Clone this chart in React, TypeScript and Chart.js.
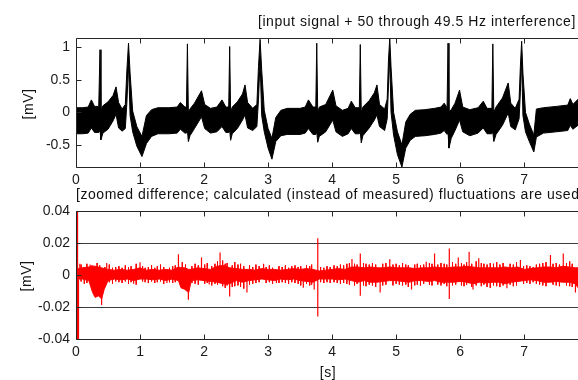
import React, { useEffect, useRef } from 'react';
import { Chart, registerables } from 'chart.js';

Chart.register(...registerables);

const FONT = '"Liberation Sans", Arial, Helvetica, sans-serif';

// ---------- top panel: signal + interference (envelope of the band) ----------
const topTimes = [
  0.0, 0.1, 0.19, 0.24, 0.29, 0.355, 0.375, 0.39, 0.42, 0.5, 0.58, 0.625, 0.665, 0.72, 0.77, 0.795, 0.82, 0.845, 0.885, 0.95,
  1.03, 1.1, 1.18, 1.28, 1.45, 1.58, 1.63, 1.7, 1.725, 1.74, 1.755, 1.78, 1.85, 1.96, 2.01, 2.1, 2.2, 2.28, 2.34, 2.385,
  2.4, 2.415, 2.44, 2.52, 2.6, 2.64, 2.68, 2.76, 2.825, 2.85, 2.875, 2.9, 2.94, 3.0, 3.06, 3.12, 3.2, 3.3, 3.5, 3.58,
  3.63, 3.7, 3.745, 3.76, 3.775, 3.8, 3.9, 4.01, 4.06, 4.16, 4.25, 4.3, 4.36, 4.425, 4.44, 4.455, 4.48, 4.58, 4.66, 4.7,
  4.74, 4.82, 4.86, 4.88, 4.9, 4.92, 4.96, 5.02, 5.09, 5.15, 5.22, 5.3, 5.45, 5.6, 5.7, 5.75, 5.795, 5.81, 5.825, 5.86,
  5.92, 5.99, 6.04, 6.15, 6.28, 6.36, 6.42, 6.495, 6.51, 6.525, 6.56, 6.66, 6.75, 6.79, 6.86, 6.92, 6.94, 6.96, 6.98, 7.02,
  7.08, 7.15, 7.19, 7.3, 7.5, 7.68, 7.72, 7.76, 7.84,
];
const topUpper = [
  0.07, 0.07, 0.08, 0.19, 0.09, 0.09, 0.96, 0.03, 0.1, 0.16, 0.26, 0.39, 0.15, 0.05, 0.12, 0.65, 1.06, 0.6, 0.02, -0.22,
  -0.37, -0.05, 0.04, 0.07, 0.07, 0.08, 0.15, 0.08, 0.08, 1.05, 0.0, 0.05, 0.14, 0.33, 0.12, 0.06, 0.08, 0.19, 0.08, 0.08,
  1.01, 0.0, 0.08, 0.16, 0.28, 0.42, 0.15, 0.06, 0.12, 0.7, 1.12, 0.65, 0.03, -0.25, -0.4, -0.08, 0.03, 0.06, 0.06, 0.08,
  0.19, 0.08, 0.08, 1.06, 0.0, 0.08, 0.12, 0.34, 0.1, 0.03, 0.06, 0.17, 0.07, 0.07, 1.04, 0.0, 0.08, 0.18, 0.3, 0.42,
  0.12, 0.05, 0.2, 0.8, 1.14, 0.7, 0.0, -0.3, -0.5, -0.15, -0.03, 0.03, 0.04, 0.06, 0.08, 0.14, 0.07, 1.06, 0.0, 0.04,
  0.14, 0.34, 0.08, 0.04, 0.07, 0.17, 0.06, 0.06, 1.05, 0.0, 0.08, 0.22, 0.45, 0.14, 0.06, 0.2, 0.7, 1.09, 0.6, 0.0,
  -0.18, -0.35, 0.05, 0.07, 0.09, 0.11, 0.21, 0.12, 0.2,
];
const topLower = [
  -0.33, -0.33, -0.32, -0.24, -0.31, -0.31, -0.28, -0.42, -0.32, -0.26, -0.13, -0.03, -0.24, -0.29, -0.25, 0.15, 0.75, -0.05, -0.3, -0.52,
  -0.68, -0.48, -0.37, -0.33, -0.33, -0.32, -0.26, -0.32, -0.32, -0.28, -0.45, -0.36, -0.25, -0.07, -0.25, -0.32, -0.3, -0.22, -0.31, -0.31,
  -0.28, -0.43, -0.33, -0.25, -0.12, -0.04, -0.24, -0.28, -0.22, 0.2, 0.8, -0.05, -0.3, -0.55, -0.72, -0.45, -0.36, -0.34, -0.34, -0.32,
  -0.25, -0.34, -0.34, -0.3, -0.46, -0.37, -0.3, -0.12, -0.3, -0.37, -0.33, -0.25, -0.33, -0.33, -0.3, -0.47, -0.36, -0.24, -0.12, -0.04,
  -0.22, -0.28, -0.1, 0.4, 0.85, 0.0, -0.35, -0.65, -0.84, -0.55, -0.43, -0.37, -0.36, -0.34, -0.32, -0.28, -0.34, -0.3, -0.55, -0.4,
  -0.28, -0.12, -0.3, -0.36, -0.32, -0.24, -0.33, -0.33, -0.3, -0.45, -0.34, -0.2, -0.01, -0.22, -0.27, -0.1, 0.3, 0.8, -0.05, -0.3,
  -0.45, -0.61, -0.38, -0.32, -0.3, -0.28, -0.2, -0.26, -0.2,
];

// ---------- bottom panel: zoomed difference (dense core envelope) ----------
const diffTimes = [
  0, 0.1, 0.2, 0.26, 0.3, 0.35, 0.4, 0.44, 0.5, 0.6, 0.7, 0.8, 0.9, 1.0, 1.1, 1.2, 1.3, 1.4, 1.5, 1.6,
  1.64, 1.7, 1.76, 1.8, 1.9, 2.0, 2.1, 2.2, 2.3, 2.4, 2.5, 2.6, 2.7, 2.8, 2.9, 3.0, 3.1, 3.2, 3.3, 3.4,
  3.5, 3.6, 3.7, 3.8, 3.9, 4.0, 4.1, 4.2, 4.3, 4.4, 4.5, 4.6, 4.7, 4.8, 4.9, 5.0, 5.1, 5.2, 5.3, 5.4,
  5.5, 5.6, 5.7, 5.8, 5.9, 6.0, 6.1, 6.2, 6.3, 6.4, 6.5, 6.6, 6.7, 6.8, 6.9, 7.0, 7.1, 7.2, 7.3, 7.4,
  7.5, 7.6, 7.7, 7.8, 7.84,
];
const diffUpper = [
  0.0035, 0.0045, 0.005, 0.0055, 0.0055, 0.005, 0.0045, 0.004, 0.0035, 0.003, 0.0035, 0.003, 0.0035, 0.0045, 0.003, 0.0035, 0.003, 0.0035, 0.003, 0.005,
  0.0045, 0.0045, 0.0035, 0.0035, 0.0045, 0.004, 0.0035, 0.0055, 0.006, 0.0045, 0.004, 0.0035, 0.0035, 0.003, 0.004, 0.0035, 0.0035, 0.003, 0.0035, 0.004,
  0.0035, 0.004, 0.0035, 0.0025, 0.003, 0.0035, 0.004, 0.0035, 0.005, 0.005, 0.0045, 0.005, 0.0045, 0.0045, 0.005, 0.0045, 0.0045, 0.0045, 0.004, 0.0045,
  0.0045, 0.005, 0.0045, 0.0045, 0.005, 0.005, 0.0055, 0.005, 0.0045, 0.0045, 0.0045, 0.0045, 0.005, 0.0045, 0.005, 0.0035, 0.004, 0.0045, 0.005, 0.005,
  0.0045, 0.0055, 0.005, 0.0045, 0.0045,
];
const diffLower = [
  -0.0025, -0.0025, -0.0035, -0.011, -0.014, -0.013, -0.015, -0.009, -0.0035, -0.0025, -0.003, -0.0025, -0.0035, -0.0025, -0.0025, -0.003, -0.0025, -0.0035, -0.0025, -0.0035,
  -0.008, -0.009, -0.011, -0.0035, -0.003, -0.0035, -0.004, -0.0045, -0.0055, -0.0055, -0.0035, -0.0045, -0.0035, -0.003, -0.0025, -0.003, -0.0035, -0.0025, -0.003, -0.0025,
  -0.0035, -0.004, -0.0045, -0.0025, -0.0025, -0.0025, -0.003, -0.0025, -0.0035, -0.0045, -0.0035, -0.0045, -0.0045, -0.004, -0.0035, -0.0035, -0.004, -0.0045, -0.0035, -0.0035,
  -0.004, -0.0035, -0.0045, -0.0045, -0.0045, -0.004, -0.0045, -0.0055, -0.0045, -0.005, -0.0045, -0.0045, -0.0055, -0.0045, -0.004, -0.0035, -0.003, -0.0035, -0.0045, -0.0045,
  -0.004, -0.0045, -0.0045, -0.0055, -0.008,
];

// large isolated excursions
const spikeTimes = [
  0.024, 0.039, 0.06, 0.22, 0.4, 0.48, 0.9, 1.0, 1.42, 1.6, 1.755, 1.96, 2.08, 2.25, 2.4, 2.67, 2.93, 3.13, 3.55, 3.72,
  3.776, 4.31, 4.44, 4.75, 4.9, 5.24, 5.47, 5.6, 5.83, 5.97, 6.14, 6.2, 6.29, 6.73, 6.94, 7.41, 7.61, 7.8,
];
const spikeHigh = [
  0.04, 0.0, 0.007, 0.0065, 0.002, 0.0075, 0.003, 0.008, 0.002, 0.013, 0.0, 0.011, 0.002, 0.014, 0.003, 0.002, 0.007, 0.002, 0.002, 0.003,
  0.023, 0.01, 0.0135, 0.002, 0.0098, 0.002, 0.0083, 0.0135, 0.0166, 0.011, 0.0145, 0.002, 0.0104, 0.002, 0.0093, 0.0125, 0.0135, 0.002,
];
const spikeLow = [
  -0.04, -0.04, -0.002, -0.004, -0.0187, -0.003, -0.0055, -0.002, -0.005, -0.002, -0.0155, -0.002, -0.006, -0.002, -0.0135, -0.011, -0.002, -0.005, -0.008, -0.009,
  -0.026, -0.002, -0.013, -0.011, -0.002, -0.009, -0.002, -0.002, -0.015, -0.002, -0.002, -0.009, -0.002, -0.0083, -0.002, -0.002, -0.002, -0.011,
];

// small fluctuations (hair) around the core band
const hairTimes = [
  0.08, 0.13, 0.17, 0.25, 0.33, 0.37, 0.45, 0.52, 0.57, 0.62, 0.67, 0.72, 0.77, 0.82, 0.86, 0.94, 1.04, 1.08, 1.13, 1.18,
  1.23, 1.27, 1.32, 1.37, 1.46, 1.51, 1.55, 1.66, 1.71, 1.81, 1.86, 1.91, 2.01, 2.05, 2.12, 2.17, 2.21, 2.29, 2.33, 2.36,
  2.44, 2.48, 2.53, 2.57, 2.62, 2.71, 2.76, 2.81, 2.86, 2.97, 3.02, 3.07, 3.17, 3.22, 3.27, 3.32, 3.37, 3.42, 3.47, 3.51,
  3.6, 3.65, 3.68, 3.82, 3.87, 3.92, 3.97, 4.03, 4.08, 4.13, 4.18, 4.23, 4.27, 4.35, 4.39, 4.49, 4.53, 4.58, 4.63, 4.68,
  4.79, 4.84, 4.95, 5.0, 5.05, 5.1, 5.15, 5.19, 5.29, 5.33, 5.38, 5.43, 5.52, 5.56, 5.65, 5.7, 5.75, 5.79, 5.88, 5.93,
  6.02, 6.06, 6.1, 6.18, 6.25, 6.33, 6.37, 6.42, 6.47, 6.52, 6.57, 6.62, 6.67, 6.78, 6.83, 6.88, 6.99, 7.04, 7.09, 7.14,
  7.19, 7.24, 7.29, 7.34, 7.45, 7.5, 7.55, 7.66, 7.71, 7.75,
];
const hairHigh = [
  0.0065, 0.005, 0.007, 0.006, 0.0075, 0.006, 0.005, 0.0065, 0.0045, 0.005, 0.0055, 0.0045, 0.006, 0.005, 0.0055, 0.007, 0.0055, 0.0045, 0.005, 0.006,
  0.0045, 0.0055, 0.0065, 0.005, 0.0045, 0.0055, 0.006, 0.008, 0.0065, 0.0055, 0.007, 0.006, 0.0065, 0.0075, 0.0055, 0.007, 0.0085, 0.009, 0.007, 0.0075,
  0.006, 0.008, 0.0065, 0.007, 0.0055, 0.006, 0.005, 0.0065, 0.0055, 0.005, 0.006, 0.0045, 0.0055, 0.005, 0.006, 0.0045, 0.0055, 0.006, 0.005, 0.0055,
  0.006, 0.0055, 0.0065, 0.005, 0.0045, 0.0055, 0.005, 0.006, 0.0055, 0.0065, 0.006, 0.007, 0.0075, 0.007, 0.0065, 0.0075, 0.007, 0.0065, 0.0075, 0.0065,
  0.007, 0.0075, 0.0065, 0.007, 0.006, 0.0075, 0.0065, 0.006, 0.0065, 0.007, 0.006, 0.0065, 0.0075, 0.007, 0.0065, 0.0075, 0.007, 0.0065, 0.008, 0.007,
  0.0075, 0.0065, 0.008, 0.007, 0.0085, 0.0075, 0.007, 0.0065, 0.0075, 0.007, 0.008, 0.0065, 0.0075, 0.007, 0.0065, 0.008, 0.0055, 0.006, 0.0055, 0.005,
  0.0065, 0.007, 0.0075, 0.008, 0.007, 0.0075, 0.0065, 0.0075, 0.0085, 0.007,
];
const hairLow = [
  -0.004, -0.0055, -0.005, -0.006, -0.0075, -0.007, -0.005, -0.0045, -0.0055, -0.004, -0.0045, -0.005, -0.004, -0.0055, -0.0045, -0.006, -0.004, -0.0045, -0.005, -0.004,
  -0.005, -0.0045, -0.004, -0.0055, -0.0045, -0.005, -0.0045, -0.006, -0.007, -0.005, -0.0055, -0.006, -0.0055, -0.005, -0.0065, -0.0055, -0.006, -0.007, -0.008, -0.0065,
  -0.0075, -0.007, -0.0065, -0.0075, -0.0085, -0.006, -0.0055, -0.005, -0.0045, -0.005, -0.0045, -0.0055, -0.005, -0.0045, -0.005, -0.0055, -0.0045, -0.005, -0.0055, -0.0065,
  -0.0055, -0.0065, -0.006, -0.0045, -0.005, -0.0045, -0.005, -0.0045, -0.005, -0.0055, -0.005, -0.0055, -0.006, -0.0065, -0.0055, -0.0065, -0.007, -0.006, -0.0065, -0.0075,
  -0.0065, -0.006, -0.0065, -0.0055, -0.006, -0.0065, -0.006, -0.0075, -0.0065, -0.006, -0.0065, -0.0055, -0.006, -0.0065, -0.006, -0.0065, -0.0055, -0.007, -0.0065, -0.006,
  -0.0065, -0.007, -0.006, -0.0075, -0.0065, -0.007, -0.006, -0.0075, -0.008, -0.0065, -0.007, -0.0075, -0.0065, -0.006, -0.007, -0.0065, -0.0055, -0.005, -0.0055, -0.0045,
  -0.0055, -0.006, -0.0065, -0.007, -0.006, -0.0065, -0.007, -0.0065, -0.007, -0.0075,
];

const X_MIN = 0;
const X_MAX = 7.84;
const TOP_Y = [-0.84, 1.14];
const BOT_Y = [-0.04, 0.04];

function framePlugin(gridValues: number[]) {
  return {
    id: 'frame',
    beforeDatasetsDraw(chart: any) {
      const { ctx, chartArea: a, scales } = chart;
      ctx.save();
      ctx.strokeStyle = '#3c3c3c';
      ctx.lineWidth = 1;
      for (const v of gridValues) {
        const y = Math.round(scales.y.getPixelForValue(v)) + 0.5;
        ctx.beginPath();
        ctx.moveTo(a.left, y);
        ctx.lineTo(a.right, y);
        ctx.stroke();
      }
      ctx.restore();
    },
    afterDatasetsDraw(chart: any) {
      const { ctx, chartArea: a, scales } = chart;
      const L = Math.round(a.left) + 0.5;
      const T = Math.round(a.top) + 0.5;
      const B = Math.round(a.bottom) + 0.5;
      const R = a.right + 2;
      ctx.save();
      ctx.strokeStyle = '#262626';
      ctx.lineWidth = 1;
      ctx.beginPath();
      ctx.moveTo(R, T);
      ctx.lineTo(L, T);
      ctx.lineTo(L, B);
      ctx.lineTo(R, B);
      ctx.stroke();
      for (const t of scales.x.ticks) {
        const x = Math.round(scales.x.getPixelForValue(t.value)) + 0.5;
        ctx.beginPath();
        ctx.moveTo(x, T);
        ctx.lineTo(x, T + 5);
        ctx.moveTo(x, B);
        ctx.lineTo(x, B - 5);
        ctx.stroke();
      }
      for (const t of scales.y.ticks) {
        const y = Math.round(scales.y.getPixelForValue(t.value)) + 0.5;
        ctx.beginPath();
        ctx.moveTo(L, y);
        ctx.lineTo(L + 5, y);
        ctx.stroke();
      }
      ctx.restore();
    },
  };
}

function makeOptions(yr: number[], step: number, fmt: (v: number) => string, padTop: number, xAxisH: number) {
  return {
    responsive: false,
    animation: false as const,
    devicePixelRatio: 1,
    layout: { padding: { top: padTop, left: 0, right: 0, bottom: 0 } },
    plugins: { legend: { display: false }, tooltip: { enabled: false }, title: { display: false } },
    elements: { point: { radius: 0 }, line: { tension: 0 } },
    scales: {
      x: {
        type: 'linear' as const,
        min: X_MIN,
        max: X_MAX,
        grid: { display: false, drawTicks: false },
        border: { display: false },
        ticks: {
          stepSize: 1,
          includeBounds: false,
          padding: 5,
          maxRotation: 0,
          autoSkip: false,
          color: '#1a1a1a',
          font: { family: FONT, size: 14 },
          callback: (v: any) => String(Math.round(Number(v))),
        },
        afterFit: (s: any) => {
          s.height = xAxisH;
        },
      },
      y: {
        type: 'linear' as const,
        min: yr[0],
        max: yr[1],
        grid: { display: false, drawTicks: false },
        border: { display: false },
        ticks: {
          stepSize: step,
          includeBounds: false,
          padding: 6,
          color: '#1a1a1a',
          font: { family: FONT, size: 14 },
          callback: (v: any) => fmt(Number(v)),
        },
        afterFit: (s: any) => {
          s.width = 76;
        },
      },
    },
  };
}

function verticalSegments(times: number[], highs: number[], lows: number[]) {
  const pts: any[] = [];
  times.forEach((t, i) => {
    pts.push({ x: t, y: highs[i] }, { x: t, y: lows[i] }, { x: t, y: null });
  });
  return pts;
}

export default function App() {
  const topRef = useRef<HTMLCanvasElement>(null);
  const botRef = useRef<HTMLCanvasElement>(null);

  useEffect(() => {
    const upper = topTimes.map((t, i) => ({ x: t, y: topUpper[i] }));
    const lower = topTimes.map((t, i) => ({ x: t, y: topLower[i] }));
    const c1 = new Chart(topRef.current as HTMLCanvasElement, {
      type: 'line',
      data: {
        datasets: [
          { data: upper, borderColor: '#000', backgroundColor: '#000', borderWidth: 1, fill: '+1', pointRadius: 0 },
          { data: lower, borderColor: '#000', backgroundColor: '#000', borderWidth: 1, fill: false, pointRadius: 0 },
        ],
      },
      options: makeOptions(TOP_Y, 0.5, (v) => String(Math.round(v * 10) / 10), 38, 23) as any,
      plugins: [framePlugin([])],
    });

    const dUp = diffTimes.map((t, i) => ({ x: t, y: diffUpper[i] }));
    const dLo = diffTimes.map((t, i) => ({ x: t, y: diffLower[i] }));
    const c2 = new Chart(botRef.current as HTMLCanvasElement, {
      type: 'line',
      data: {
        datasets: [
          { data: dUp, borderColor: '#ff0000', backgroundColor: '#ff0000', borderWidth: 1, fill: '+1', pointRadius: 0 },
          { data: dLo, borderColor: '#ff0000', backgroundColor: '#ff0000', borderWidth: 1, fill: false, pointRadius: 0 },
          {
            data: verticalSegments(hairTimes, hairHigh, hairLow),
            borderColor: '#ff0000',
            borderWidth: 1,
            fill: false,
            pointRadius: 0,
            spanGaps: false,
          },
          {
            data: verticalSegments(spikeTimes, spikeHigh, spikeLow),
            borderColor: '#ff0000',
            borderWidth: 1.2,
            fill: false,
            pointRadius: 0,
            spanGaps: false,
          },
        ],
      },
      options: makeOptions(BOT_Y, 0.02, (v) => (Math.abs(v) < 1e-9 ? '0' : v.toFixed(2)), 21, 41) as any,
      plugins: [framePlugin([-0.02, 0.02])],
    });

    return () => {
      c1.destroy();
      c2.destroy();
    };
  }, []);

  const txt: React.CSSProperties = {
    position: 'absolute',
    fontFamily: FONT,
    fontSize: 14,
    lineHeight: '16px',
    color: '#111',
    whiteSpace: 'nowrap',
    letterSpacing: '0.55px',
  };

  return (
    <div style={{ position: 'absolute', left: 0, top: 0, width: 578, height: 380, overflow: 'hidden', background: '#fff' }}>
      <canvas ref={topRef} width={578} height={190} style={{ position: 'absolute', left: 0, top: 0 }} />
      <canvas ref={botRef} width={578} height={190} style={{ position: 'absolute', left: 0, top: 190 }} />
      <div style={{ ...txt, left: 258, top: 13 }}>[input signal + 50 through 49.5 Hz interference]</div>
      <div style={{ ...txt, left: 76, top: 186 }}>
        [zoomed difference; calculated (instead of measured) fluctuations are used]
      </div>
      <div style={{ ...txt, left: 28, top: 104, transform: 'translate(-50%, -50%) rotate(-90deg)' }}>[mV]</div>
      <div style={{ ...txt, left: 26, top: 276, transform: 'translate(-50%, -50%) rotate(-90deg)' }}>[mV]</div>
      <div style={{ ...txt, left: 328, top: 372, transform: 'translate(-50%, -50%)' }}>[s]</div>
    </div>
  );
}
